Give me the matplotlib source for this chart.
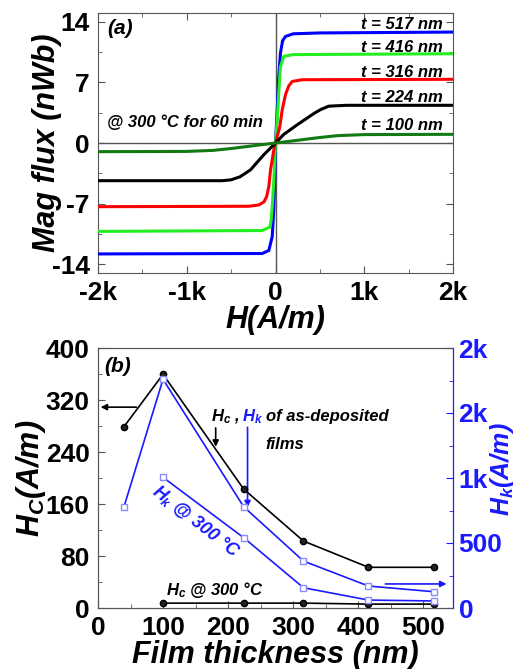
import matplotlib
matplotlib.use('Agg')
import matplotlib.pyplot as plt
from matplotlib.ticker import MultipleLocator

plt.rcParams['font.family'] = ['Liberation Sans', 'DejaVu Sans']
plt.rcParams['font.weight'] = 'bold'
plt.rcParams['axes.unicode_minus'] = False
plt.rcParams['mathtext.fontset'] = 'custom'
plt.rcParams['mathtext.it'] = 'Liberation Sans:bold:italic'
plt.rcParams['mathtext.rm'] = 'Liberation Sans:bold'
plt.rcParams['mathtext.bf'] = 'Liberation Sans:bold'

# ---- panel (a): magnetic flux vs field for each film thickness ----
h_517 = [-2000, -150, -75, -37, -19, -8, 0, 19, 37, 56, 80, 113, 200, 500, 2000]
m_517 = [-12.8, -12.75, -12.4, -10.8, -7.75, -3.5, 0, 3.8, 7.7, 10.4, 11.8, 12.3, 12.6, 12.7, 12.8]
h_416 = [-2000, -150, -64, -50, -37, -19, 0, 19, 37, 56, 94, 200, 2000]
m_416 = [-10.2, -10.1, -9.7, -9.0, -7.4, -4.3, 0, 2.7, 5.8, 8.8, 10.0, 10.2, 10.3]
h_316 = [-2000, -300, -188, -131, -100, -75, -56, -19, 0, 49, 75, 113, 150, 188, 300, 2000]
m_316 = [-7.35, -7.3, -7.15, -6.8, -6.2, -5.0, -3.1, -0.8, 0, 1.9, 3.8, 5.6, 6.6, 7.1, 7.3, 7.35]
h_224 = [-2000, -800, -600, -500, -400, -282, -131, 0, 94, 244, 432, 507, 600, 800, 2000]
m_224 = [-4.35, -4.35, -4.35, -4.25, -3.9, -3.1, -1.35, 0, 1.0, 2.1, 3.4, 3.85, 4.25, 4.35, 4.35]
h_100 = [-2000, -1000, -700, -470, -200, 0, 200, 470, 700, 1000, 2000]
m_100 = [-1.0, -0.97, -0.85, -0.6, -0.25, 0, 0.25, 0.6, 0.85, 0.97, 1.0]

curve_labels = ['t = 517 nm', 't = 416 nm', 't = 316 nm', 't = 224 nm', 't = 100 nm']
curve_label_y = [13.7, 11.0, 8.1, 5.3, 2.0]
curve_colors = ['#0000ff', '#22ee22', '#ff0000', '#000000', '#127a12']

a_xticks = [-2000, -1000, 0, 1000, 2000]
a_xticklabels = ['-2k', '-1k', '0', '1k', '2k']
a_yticks = [-14, -7, 0, 7, 14]

# ---- panel (b): Hc / Hk vs film thickness ----
thick = [40, 100, 224, 316, 416, 517]
hc_dep = [279, 359.5, 183, 103, 62.6, 62.6]
hk_dep = [779, 1759, 779, 361, 169, 125]
thick_300 = [100, 224, 316, 416, 517]
hc_300 = [7.5, 7.5, 7.5, 6, 6]
hk_300 = [1005, 541, 156, 61, 54]

b_yticks = [0, 80, 160, 240, 320, 400]
b_xticks = [0, 100, 200, 300, 400, 500]
b_rticks = [0, 500, 1000, 1500, 2000]
b_rticklabels = ['0', '500', '1k', '2k', '2k']

spine_col = '#555555'
blue = '#1a1aff'

fig = plt.figure(figsize=(5.17, 6.69), dpi=100)
ax = fig.add_axes([98/517, 1-273/669, 355/517, 260/669])

ax.axhline(0, color=spine_col, lw=1, zorder=1)
ax.axvline(0, color=spine_col, lw=1, zorder=1)
for h, m, c in zip([h_517, h_416, h_316, h_224, h_100],
                   [m_517, m_416, m_316, m_224, m_100], curve_colors):
    ax.plot(h, m, color=c, lw=2.2, zorder=3)
for lab, yy in zip(curve_labels, curve_label_y):
    ax.text(1890, yy, lab, ha='right', va='center', fontsize=12,
            fontweight='bold', style='italic')
ax.text(-1900, 2.4, '@ 300 °C for 60 min', ha='left', va='center',
        fontsize=12, fontweight='bold', style='italic')
ax.text(-1893, 13.2, '(a)', ha='left', va='center', fontsize=15,
        fontweight='bold', style='italic')

ax.set_xlim(-2000, 2000)
ax.set_ylim(-15, 15)
ax.set_xticks(a_xticks)
ax.set_xticklabels(a_xticklabels)
ax.set_yticks(a_yticks)
ax.xaxis.set_minor_locator(MultipleLocator(500))
ax.yaxis.set_minor_locator(MultipleLocator(3.5))
ax.tick_params(which='both', direction='in', top=True, right=True,
               labelsize=19, color=spine_col, pad=6)
ax.tick_params(which='major', length=5)
ax.tick_params(which='minor', length=3)
for s in ax.spines.values():
    s.set_color(spine_col)
ax.set_xlabel('H(A/m)', fontsize=22, fontweight='bold', style='italic', labelpad=0)
ax.set_ylabel('Mag flux (nWb)', fontsize=22, fontweight='bold', style='italic')
ax.yaxis.set_label_coords(-0.10, 0.5)

# panel (b)
bx = fig.add_axes([98/517, 1-608/669, 355/517, 260/669])
br = bx.twinx()

bx.plot(thick, hc_dep, color='black', lw=1.2, marker='o', ms=4.5,
        mfc='#222222', mec='black', zorder=4)
bx.plot(thick_300, hc_300, color='black', lw=1.2, marker='o', ms=4.5,
        mfc='#222222', mec='black', zorder=4)
br.plot(thick, hk_dep, color=blue, lw=1.2, marker='s', ms=5,
        mfc='white', mec='#8a8aff', zorder=3)
br.plot(thick_300, hk_300, color=blue, lw=1.2, marker='s', ms=5,
        mfc='white', mec='#8a8aff', zorder=3)

bx.set_xlim(0, 546)
bx.set_ylim(0, 400)
br.set_ylim(0, 2000)
bx.set_xticks(b_xticks)
bx.set_yticks(b_yticks)
bx.xaxis.set_minor_locator(MultipleLocator(50))
bx.yaxis.set_minor_locator(MultipleLocator(40))
bx.tick_params(which='both', direction='in', labelsize=19, color=spine_col, pad=6)
bx.tick_params(which='major', length=5)
bx.tick_params(which='minor', length=3)
br.set_yticks(b_rticks)
br.set_yticklabels(b_rticklabels)
br.yaxis.set_minor_locator(MultipleLocator(250))
br.tick_params(which='both', direction='in', labelsize=19, colors=blue, pad=4)
br.tick_params(which='major', length=5)
br.tick_params(which='minor', length=3)
for s in ['left', 'bottom', 'top']:
    bx.spines[s].set_color(spine_col)
    br.spines[s].set_color(spine_col)
br.spines['right'].set_color(blue)
bx.spines['right'].set_color(blue)

bx.set_xlabel('Film thickness (nm)', fontsize=22, fontweight='bold',
              style='italic', labelpad=0)
bx.set_ylabel(r'$H_C$(A/m)', fontsize=22, fontweight='bold', style='italic')
bx.yaxis.set_label_coords(-0.14, 0.5)
br.set_ylabel(r'$H_k$(A/m)', fontsize=18, fontweight='bold', style='italic',
              color=blue)
br.yaxis.set_label_coords(1.10, 0.535)

bx.text(9, 371, '(b)', ha='left', va='center', fontsize=15,
        fontweight='bold', style='italic')
tkw = dict(fontsize=12, fontweight='bold', style='italic', va='center')
bx.text(174, 294, r'$H_c$ ,', ha='left', **tkw)
bx.text(222, 294, r'$H_k$', ha='left', color=blue, **tkw)
bx.text(258, 294, 'of as-deposited', ha='left', **tkw)
bx.text(258, 251, 'films', ha='left', **tkw)
bx.text(104, 28, r'$H_c$ @ 300 °C', ha='left', **tkw)
bx.text(150, 133, r'$H_k$ @ 300 °C', ha='center', color=blue, rotation=-38,
        fontsize=13, fontweight='bold', style='italic', va='center')

akw = dict(arrowstyle='-|>', mutation_scale=9, lw=1.2, shrinkA=0, shrinkB=0)
bx.annotate('', xy=(4, 309), xytext=(59, 309),
            arrowprops=dict(color='black', **akw))
bx.annotate('', xy=(181, 248), xytext=(181, 277),
            arrowprops=dict(color='black', **akw))
bx.annotate('', xy=(230, 155), xytext=(230, 278),
            arrowprops=dict(color=blue, **akw))
bx.annotate('', xy=(536, 37), xytext=(442, 37),
            arrowprops=dict(color=blue, **akw))

fig.savefig('out.png', dpi=100)
